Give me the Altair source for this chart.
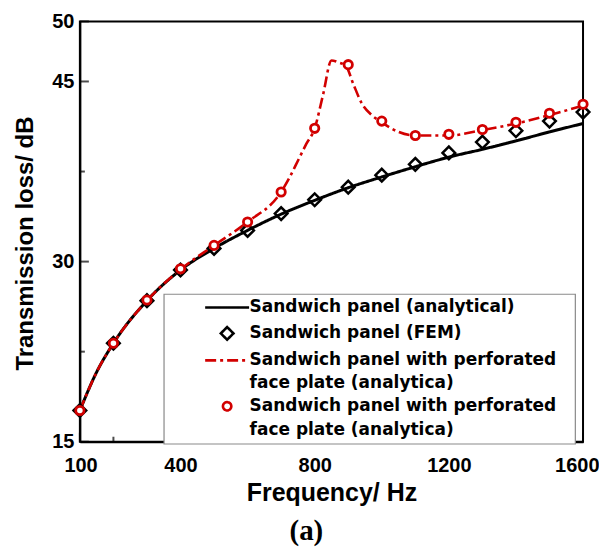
import altair as alt
import pandas as pd

# ---------------- data ----------------
fem_freq = [100, 200, 300, 400, 500, 600, 700, 800, 900, 1000, 1100, 1200, 1300, 1400, 1500, 1600]
fem_tl = [17.6, 23.2, 26.75, 29.3, 31.1, 32.6, 34.0, 35.15, 36.2, 37.2, 38.1, 39.05, 39.95, 40.9, 41.7, 42.45]

ana_freq = [100, 150, 200, 300, 400, 500, 600, 700, 800, 900, 1000, 1100, 1200, 1300, 1400, 1500, 1600]
ana_tl = [17.6, 20.8, 23.2, 26.75, 29.3, 31.1, 32.6, 33.95, 35.1, 36.15, 37.05, 37.9, 38.7, 39.35, 40.05, 40.8, 41.5]

perf_freq = [100, 150, 200, 300, 400, 500, 600, 700, 725, 750, 775, 800, 825, 850, 870, 893,
             915, 940, 970, 1000, 1050, 1100, 1200, 1300, 1400, 1500, 1600]
perf_tl = [17.6, 20.8, 23.2, 26.75, 29.35, 31.35, 33.3, 35.8, 37.0, 38.4, 39.8, 41.1, 43.9, 46.75, 46.6, 46.3,
           44.8, 43.2, 42.2, 41.6, 40.8, 40.5, 40.5, 40.95, 41.5, 42.2, 43.0]

perfpt_freq = [100, 200, 300, 400, 500, 600, 700, 800, 900, 1000, 1100, 1200, 1300, 1400, 1500, 1600]
perfpt_tl = [17.6, 23.2, 26.8, 29.4, 31.35, 33.3, 35.8, 41.1, 46.4, 41.7, 40.5, 40.6, 41.0, 41.6, 42.35, 43.1]

y_major = [15, 30, 45, 50]
y_minor = [22.5, 37.5]
x_major = [100, 400, 800, 1200, 1600]
x_minor = [200, 600, 1000, 1400]

L1 = "Sandwich panel (analytical)"
L2 = "Sandwich panel (FEM)"
L3 = "Sandwich panel with perforated"
L4 = "face plate (analytica)"
L5 = "Sandwich panel with perforated\u2800"
L6 = "face plate (analytica)\u2800"
legend_domain = [L1, L2, L3, L4, L5, L6]

RED = "#d20000"
LINE_SYM = "M-4,0H4"

df_ana = pd.DataFrame({"f": ana_freq, "tl": ana_tl, "series": L1})
df_fem = pd.DataFrame({"f": fem_freq, "tl": fem_tl, "series": L2})
df_perf = pd.DataFrame({"f": perf_freq, "tl": perf_tl, "series": L3})
df_perfpt = pd.DataFrame({"f": perfpt_freq, "tl": perfpt_tl, "series": L5})

W, H = 504, 421

xscale = alt.Scale(domain=[100, 1600], nice=False, zero=False)
yscale = alt.Scale(domain=[15, 50], nice=False, zero=False)

color = alt.Color("series:N", scale=alt.Scale(domain=legend_domain,
                  range=["black", "black", RED, "transparent", RED, "transparent"]),
                  legend=alt.Legend(title=None))
dash = alt.StrokeDash("series:N", scale=alt.Scale(domain=legend_domain,
                      range=[[1, 0], [1, 0], [11, 4, 3, 4], [1, 0], [1, 0], [1, 0]]),
                      legend=alt.Legend(title=None))
shape = alt.Shape("series:N", scale=alt.Scale(domain=legend_domain,
                  range=[LINE_SYM, "diamond", LINE_SYM, "circle", "circle", "circle"]),
                  legend=alt.Legend(title=None))
size = alt.Size("series:N", scale=alt.Scale(type="ordinal", domain=legend_domain,
                range=[121, 160, 121, 1, 70, 1]),
                legend=alt.Legend(title=None))

x_enc = alt.X("f:Q", scale=xscale, title="Frequency/ Hz",
              axis=alt.Axis(values=x_major, ticks=False, format="d", labelPadding=14,
                            titlePadding=5, labelFlush=True, labelFlushOffset=16))
y_enc = alt.Y("tl:Q", scale=yscale, title="Transmission loss/ dB",
              axis=alt.Axis(values=y_major, ticks=False, labelPadding=6, titlePadding=14,
                            titleY=222))

line_a = alt.Chart(df_ana).mark_line(strokeWidth=3, interpolate="monotone").encode(
    x=x_enc, y=y_enc, color=color, strokeDash=dash)
line_c = alt.Chart(df_perf).mark_line(strokeWidth=2.6, interpolate="monotone").encode(
    x="f:Q", y="tl:Q", color=color, strokeDash=dash)
pts_b = alt.Chart(df_fem).mark_point(filled=False, strokeWidth=2.5, opacity=1).encode(
    x="f:Q", y="tl:Q", color=color, shape=shape, size=size)
pts_d = alt.Chart(df_perfpt).mark_point(filled=False, strokeWidth=2.8, opacity=1,
                                        fill="white", fillOpacity=1).encode(
    x="f:Q", y="tl:Q", color=color, shape=shape, size=size)

ytick_major = alt.Chart(pd.DataFrame({"v": y_major})).mark_tick(
    orient="horizontal", size=9, thickness=2, color="black").encode(
    y=alt.Y("v:Q", scale=yscale), x=alt.value(4.5))
ytick_minor = alt.Chart(pd.DataFrame({"v": y_minor})).mark_tick(
    orient="horizontal", size=5, thickness=2, color="black").encode(
    y=alt.Y("v:Q", scale=yscale), x=alt.value(2.5))
xtick_major = alt.Chart(pd.DataFrame({"v": x_major})).mark_tick(
    orient="vertical", size=9, thickness=2, color="black").encode(
    x=alt.X("v:Q", scale=xscale), y=alt.value(H - 4.5))
xtick_minor = alt.Chart(pd.DataFrame({"v": x_minor})).mark_tick(
    orient="vertical", size=5, thickness=2, color="black").encode(
    x=alt.X("v:Q", scale=xscale), y=alt.value(H - 2.5))

chart = alt.layer(
    ytick_major, ytick_minor, xtick_major, xtick_minor,
    line_a, line_c, pts_b, pts_d
).properties(
    width=W, height=H,
    padding={"left": 5, "top": 3, "right": 0, "bottom": 2},
    title=alt.TitleParams("(a)", orient="bottom", anchor="middle", frame="bounds",
                          font="Liberation Serif", fontSize=29, fontWeight="bold",
                          color="black", offset=11)
).configure_view(
    stroke="black", strokeWidth=2
).configure_axis(
    domainColor="black", domainWidth=2, grid=False, zindex=2,
    labelFont="Liberation Sans", labelFontWeight="bold", labelFontSize=20, labelColor="black",
    titleFont="Liberation Sans", titleFontWeight="bold", titleFontSize=24, titleColor="black",
).configure_axisX(
    titleFontSize=25
).configure_axisY(
    labelBaseline="middle"
).configure_legend(
    orient="none", legendX=84, legendY=273, zindex=1,
    fillColor="white", strokeColor="#8a8a8a", strokeWidth=1.2,
    padding=5, symbolOffset=50, labelOffset=14, rowPadding=5,
    labelFont="DejaVu Sans", labelFontWeight="bold", labelFontSize=17, labelColor="black",
    labelLimit=0, symbolStrokeWidth=2.6
)

chart.save("out.html", embed_options={"renderer": "svg", "actions": False})
